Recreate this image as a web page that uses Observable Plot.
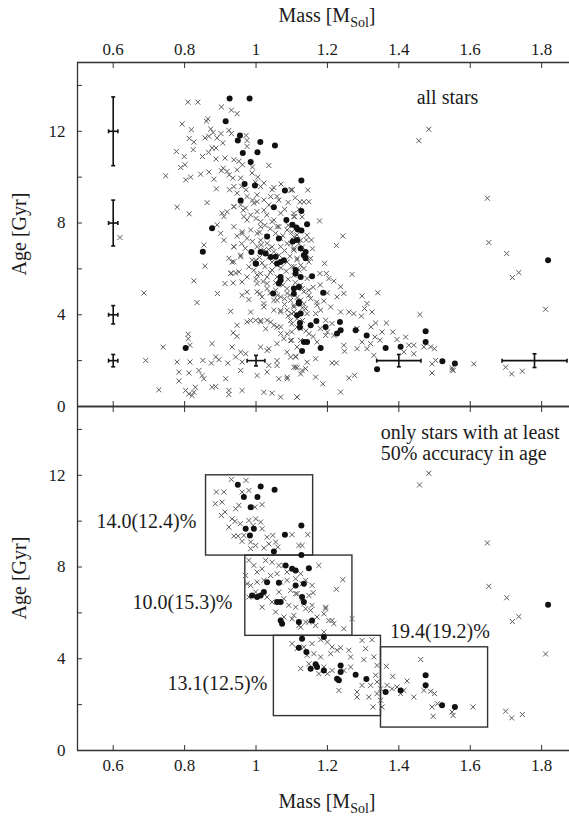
<!DOCTYPE html>
<html><head><meta charset="utf-8">
<script src="https://cdn.jsdelivr.net/npm/d3@7"></script>
<script src="https://cdn.jsdelivr.net/npm/@observablehq/plot@0.6"></script>
<style>
html,body{margin:0;padding:0;background:#fff;}
#wrap{position:relative;width:569px;height:816px;overflow:hidden;background:#fff;font-family:"Liberation Serif","Times New Roman",serif;color:#1a1a1a;}
.panel{position:absolute;left:0;}
.xtitle{position:absolute;left:77px;width:500px;text-align:center;font-size:20px;line-height:20px;white-space:nowrap;}
.xtitle sub{font-size:14px;vertical-align:-5px;line-height:0;}
.ytitle{position:absolute;left:19px;font-size:20px;line-height:20px;white-space:nowrap;transform:translate(-50%,-50%) rotate(-90deg);}
</style></head>
<body>
<div id="wrap">
  <div class="xtitle" style="top:5px">Mass [M<sub>Sol</sub>]</div>
  <div id="top" class="panel" style="top:0"></div>
  <div id="bot" class="panel" style="top:406px"></div>
  <div class="xtitle" style="top:791px">Mass [M<sub>Sol</sub>]</div>
  <div class="ytitle" style="top:234px">Age [Gyr]</div>
  <div class="ytitle" style="top:578px">Age [Gyr]</div>
</div>
<script>
// ---------- axes ----------
const xDomain = [0.5, 1.878];
const yDomain = [0, 15];
const xTicks = [0.6, 0.8, 1, 1.2, 1.4, 1.6, 1.8];
const yLabelTicks = [0, 4, 8, 12];
const yAllTicks = [0, 2, 4, 6, 8, 10, 12, 14];

// ---------- top panel: all stars [mass, age] ----------
const topCrosses = [
[0.619,7.37],
[0.809,13.27],[0.837,13.27],[0.903,13.06],[0.931,12.92],[0.947,12.77],[0.865,12.54],[0.861,12.44],[0.793,12.32],[0.819,12.07],[0.873,12.1],[0.880,11.95],[0.924,12.04],[0.931,11.90],[0.902,11.9],[0.972,11.82],[0.813,11.69],[0.826,11.53],[0.857,11.71],[0.868,11.78],[0.891,11.71],[0.907,11.49],[0.975,11.6],[0.975,11.34],[0.877,11.27],[0.888,11.27],[0.867,11.08],[0.824,11.2],[0.777,11.12],[0.799,10.9],[0.850,10.9],[0.888,10.79],[0.913,10.83],[0.938,10.76],[0.952,10.69],[1.036,10.51],[0.801,10.54],[0.789,10.42],[0.962,10.54],[0.908,10.39],[0.903,10.28],[0.919,10.25],[0.947,10.32],[0.990,10.44],[0.868,10.22],[0.845,10.13],[0.817,10.0],[0.803,9.88],[0.747,10.06],[0.882,9.91],[0.925,10.1],[0.935,9.96],[0.957,9.96],[0.989,10.18],[1.005,10.0],[0.998,9.78],[0.938,9.59],[0.889,9.49],[0.926,9.45],[0.972,9.45],[1.013,9.59],[1.022,9.74],[1.045,9.45],[1.101,9.45],[0.947,9.3],[0.975,9.16],[1.003,9.23],[1.059,9.16],[0.863,8.89],[0.779,8.69],[0.813,8.4],[0.905,8.43],[0.910,8.28],[0.938,8.72],[0.971,8.65],[0.985,8.35],[1.003,8.5],[1.022,9.01],[1.069,8.43],[1.106,8.28],[0.891,7.92],[0.901,7.55],[0.947,7.43],[0.961,7.62],[0.985,7.7],[0.975,7.33],[0.854,7.04],[0.938,6.97],[1.003,6.97],
[0.957,8.79],[0.994,8.86],[1.036,8.79],[0.966,8.28],[1.013,8.06],[1.045,8.06],[1.059,7.84],[1.087,7.7],[1.115,7.48],[1.003,7.55],[1.031,7.11],[1.069,6.97],[1.097,7.11],[1.106,6.9],[1.022,6.82],
[0.857,6.12],[0.826,5.48],[0.686,4.95],[0.835,4.53],[0.892,4.93],[0.913,5.36],[0.936,5.39],[0.929,4.15],[0.924,6.46],[0.938,6.31],[0.957,6.53],[0.98,6.09],[0.999,6.38],[0.929,5.8],[0.952,5.87],[0.975,5.65],[1.003,5.73],[0.961,4.85],[0.98,4.66],[1.003,5.0],[1.017,4.78],[0.985,4.12],[0.975,3.69],[0.999,3.76],[1.013,3.69],[1.031,3.76],[1.05,3.54],[1.027,3.39],[0.936,3.21],[0.947,3.06],[0.81,3.15],[0.81,2.96],[0.877,2.74],[0.74,2.59],[0.815,2.67],[0.933,2.59],[0.957,2.37],[0.971,2.3],[1.036,2.52],[1.059,2.74],[1.078,2.96],[1.069,3.18],[1.097,2.88],[1.087,2.37],[0.691,2.01],[0.779,1.94],[0.815,1.94],[0.851,2.01],[0.875,1.89],[0.887,2.16],[0.896,2.04],[0.921,1.89],[0.943,2.16],[0.961,1.94],[0.957,1.57],[0.784,1.5],[0.812,1.46],[0.84,1.57],[0.849,1.35],[0.854,1.21],[0.784,1.11],[0.915,1.21],[1.003,1.35],[1.031,1.5],[1.059,1.79],[1.111,1.72],[1.064,1.21],[1.087,1.21],[0.728,0.73],[0.803,0.7],[0.812,0.55],[0.821,0.48],[0.826,0.62],[0.83,0.84],[0.877,0.84],[0.887,0.87],[0.924,0.7],[0.924,0.52],[0.961,0.7],[1.022,0.62],[1.045,0.58],[1.069,0.41],[1.115,0.41],
[1.05,4.63],[1.069,4.78],[1.05,4.2],[1.069,4.12],[1.087,4.2],[1.1,4.05],[1.115,3.83],[1.106,4.41],[1.069,3.47],[1.1,3.25],[1.115,3.47],[1.111,2.16],[1.115,2.59],[0.947,3.54],[1.045,5.95],[1.031,5.36],[1.055,5.07],[1.022,4.49],[1.087,4.93],
[1.456,11.59],[1.101,9.44],[1.145,9.44],[1.123,8.92],[1.134,8.92],[1.108,8.28],[1.178,8.09],[1.243,7.43],[1.225,7.02],[1.141,7.26],[1.155,7.26],[1.158,6.88],[1.115,7.26],[1.104,7.26],[1.106,6.82],[1.192,6.24],[1.153,6.46],[1.269,5.76],[1.179,5.8],[1.197,5.8],[1.204,5.58],[1.115,6.46],[1.106,6.09],[1.134,6.02],
[1.218,5.47],[1.237,5.22],[1.246,4.93],[1.227,4.78],[1.297,4.82],[1.341,4.96],[1.311,4.49],[1.325,4.12],[1.304,4.27],[1.295,3.94],[1.274,4.05],[1.26,4.12],[1.237,4.12],[1.209,4.34],[1.171,4.42],[1.167,4.05],[1.181,4.2],[1.115,5.15],[1.134,5.0],[1.148,4.85],[1.125,4.64],[1.153,4.71],[1.106,4.34],[1.139,4.27],[1.195,3.76],[1.213,3.62],[1.283,3.4],[1.335,3.64],[1.365,3.64],[1.322,3.47],[1.353,3.25],[1.383,3.25],[1.395,2.92],[1.333,3.03],[1.347,2.89],[1.297,2.81],[1.321,2.74],[1.311,2.52],[1.283,2.52],[1.248,2.41],[1.33,2.23],[1.419,3.03],[1.428,2.67],[1.442,2.67],[1.414,2.38],[1.442,2.3],[1.459,4.01],[1.47,2.6],[1.489,2.6],[1.5,2.52],[1.503,2.01],[1.493,1.46],[1.549,1.69],[1.552,1.57],[1.167,2.08],[1.213,1.9],[1.225,1.9],[1.276,1.36],[1.26,1.24],[1.115,1.69],[1.129,1.57],[1.139,1.65],[1.167,1.28],[1.187,0.99],[1.237,0.63],[1.115,0.41],[1.111,2.19],[1.171,2.81],[1.195,3.1],[1.218,3.1],[1.1,2.89],[1.246,2.67],
[1.484,12.09],[1.648,9.08],[1.652,7.15],[1.702,6.67],[1.718,5.62],[1.736,5.84],[1.811,4.24],[1.493,1.86],[1.55,1.6],[1.61,1.86],[1.699,1.71],[1.716,1.42],[1.746,1.54],
[0.919,8.49],[0.938,8.71],[0.964,8.56],[1.003,8.93],[1.022,8.56],[1.041,9.15],[1.064,9.0],[1.097,9.44],[1.106,8.42],[1.129,8.27],[1.148,8.93],[0.975,8.13],[1.013,7.84],[1.05,8.13],[1.064,7.84],[0.938,7.84],[0.961,7.54],[0.91,7.25],[0.938,6.96],[0.957,6.6],[1.013,7.25],[1.031,7.4],[1.045,6.96],[1.069,7.33],[1.087,7.11],[1.106,7.4],[1.125,7.25],[1.143,7.47],[1.106,6.82],[1.139,6.67],[0.989,6.38],[1.017,6.26],[1.036,6.52],[1.087,6.3],[1.059,6.16],[1.125,6.16],[1.148,6.3],[0.933,6.3],[0.943,5.82],[0.994,5.94],[1.013,5.8],[1.031,5.65],[1.059,5.65],[1.106,5.72],[1.143,5.58],[0.931,5.82],[0.961,5.43],[1.003,5.36],[1.031,5.14],[1.087,5.14],[1.125,5.29],[1.148,5.07],[0.975,4.99],[1.011,4.92],[1.059,4.63],[1.097,4.63],[1.134,4.48],[1.022,4.34],[1.069,4.19],[1.106,4.12],[1.143,4.05],[0.985,3.75],[1.013,3.75],[1.041,3.68],[1.059,3.46],[1.097,3.75],[1.125,3.39],[1.087,3.17],[1.125,2.88],[1.148,3.17],[1.013,2.59],[1.031,2.44],[1.059,2.0],[1.097,2.15],[1.143,1.93],[1.036,1.79],[1.106,1.71],[1.087,1.28],[1.125,1.42],
[1.01,7.6],[1.025,7.9],[1.04,7.75],[1.055,7.55],[1.075,7.45],[1.09,7.9],[1.1,7.6],[1.12,7.1],[1.13,6.95],[1.015,7.05],[1.035,6.85],[1.05,6.75],[1.065,6.6],[1.08,6.8],[1.095,6.55],[1.115,6.4],[1.01,6.5],[1.025,6.1],[1.045,6.3],[1.07,6.05],[1.085,5.9],[1.1,6.1],[1.12,5.95],[1.0,5.55],[1.02,5.45],[1.04,5.85],[1.055,5.4],[1.075,5.3],[1.09,5.55],[1.11,5.4],[1.13,5.15],[1.04,4.95],[1.06,4.85],[1.08,4.7],[1.095,4.85],[1.115,4.75],[1.13,4.3],[1.08,4.45],[1.09,3.95],[1.1,3.6],[1.13,3.75],[1.14,3.3],[1.16,3.05],[1.18,3.4],[1.2,3.25],[1.17,4.55],[1.19,4.6],[1.16,5.2],[1.18,5.3],[1.2,4.95],[0.99,7.2],[0.97,6.9],[0.96,7.1],[1.0,8.2],[1.03,8.35],[1.08,8.6],[1.09,8.9],[1.11,9.1],[1.12,8.6],[1.05,9.55],[1.07,9.7],[0.99,9.0],[0.96,9.6]
];
const topDots = [
[0.926,13.43],[0.982,13.43],[0.915,12.44],[0.955,11.82],[0.949,11.6],[1.012,11.53],[1.053,11.38],[1.004,11.09],[0.963,11.05],[0.985,10.66],[0.968,9.7],[0.997,9.64],[1.081,9.42],[0.957,8.98],[1.050,8.69],[1.085,8.13],[1.102,7.92],[1.113,7.81],[0.877,7.77],[1.031,7.41],[1.064,7.33],[1.103,7.19],
[1.127,9.85],[1.127,8.52],[1.143,7.95],
[0.851,6.75],[0.803,2.55],[0.999,6.24],[1.059,6.24],[1.069,5.65],[1.064,5.36],[1.111,5.8],[1.106,5.14],[1.048,4.93],[1.115,3.98],[1.055,6.53],[1.027,6.67],[1.078,6.38],
[1.117,7.72],[1.127,7.67],[1.115,7.26],[1.134,6.6],[1.139,6.46],[1.111,5.95],[1.125,5.65],[1.157,5.68],
[1.188,4.96],[1.12,4.49],[1.169,3.73],[1.123,3.64],[1.153,3.54],[1.235,3.69],[1.237,3.32],[1.195,3.47],[1.279,3.32],[1.31,3.1],[1.363,2.55],[1.405,2.6],[1.134,2.81],[1.129,2.42],[1.181,2.55],[1.339,1.62],[1.475,3.28],[1.475,2.81],[1.522,1.97],[1.557,1.87],[1.227,3.18],
[1.818,6.38],
[0.987,6.74],[1.013,6.74],[1.0,6.23],[1.041,6.52],[1.069,6.3],[1.125,6.89],[1.139,6.74],[1.069,5.51],[1.12,5.21],[1.106,4.92],[1.12,4.56],[1.125,4.05],[1.123,3.46],[1.143,2.81]
];

// error bars (top panel): centre mass, centre age, mass error, age error
const errMass = [0.6, 0.6, 0.6, 0.6, 1.0, 1.4, 1.78];
const errAge = [12, 8, 4, 2, 2, 2, 2];
const errMassSd = [0.013, 0.013, 0.013, 0.013, 0.025, 0.062, 0.091];
const errAgeSd = [1.5, 1.0, 0.4, 0.27, 0.23, 0.27, 0.3];

// ---------- bottom panel: stars with >= 50% age accuracy ----------
const botCrosses = [
[0.931,11.82],[0.972,11.78],[0.889,11.27],[0.91,11.27],[0.886,10.76],[0.905,10.83],[0.98,11.34],[0.952,10.69],[0.943,10.54],[0.903,10.25],[0.913,10.4],[0.933,10.1],[0.941,9.99],[0.924,9.74],[0.956,9.89],[0.98,10.03],[0.999,10.1],[0.992,9.81],[1.013,9.96],[1.017,9.67],[0.938,9.35],[0.95,9.35],[0.966,9.38],[0.961,9.12],[0.985,9.09],[0.999,8.94],[0.985,8.8],[1.031,9.3],[1.047,9.38],[1.036,9.01],[1.055,9.09],[1.061,8.87],[1.022,8.83],[1.101,9.41],[1.145,9.41],[1.12,8.94],[1.129,8.94],[0.997,10.61],[1.017,10.72],[0.961,11.27],
[0.98,8.29],[0.994,8.07],[0.971,7.63],[1.003,7.78],[1.027,8.29],[1.045,8.21],[1.064,8.07],[1.017,7.92],[1.041,7.63],[1.059,7.71],[1.078,8.07],[1.087,7.78],[1.003,7.34],[1.022,7.42],[1.069,7.34],[1.087,7.42],[1.111,7.49],[1.129,7.27],[1.157,7.2],[1.176,8.07],[0.985,7.2],[0.98,6.69],[1.031,6.69],[1.045,6.47],[1.064,6.91],[1.078,6.62],[1.097,6.98],[1.111,6.84],[1.129,6.62],[1.148,6.76],[1.092,6.33],[1.111,6.25],[1.139,6.18],[1.157,6.33],[1.055,6.04],[1.078,5.82],[1.101,5.74],[1.12,5.45],[1.139,5.6],[1.167,5.45],[1.19,5.16],[1.195,6.18],[1.213,5.67],[1.017,6.25],[0.999,6.91],[0.975,7.27],
[1.243,7.45],[1.225,7.03],[1.16,6.88],[1.139,7.42],[1.125,7.71],[1.195,6.25],[1.19,5.96],[1.204,5.67],[1.218,5.53],[1.246,5.31],[1.269,5.75],[1.115,6.84],[1.134,6.4],[1.153,6.11],[1.171,5.82],[1.148,5.6],[1.125,5.38],[1.106,5.89],
[1.101,4.66],[1.115,4.44],[1.134,4.51],[1.157,4.66],[1.181,4.83],[1.2,4.73],[1.213,4.51],[1.237,4.48],[1.26,4.37],[1.297,4.8],[1.325,4.83],[1.307,4.44],[1.302,3.96],[1.33,4.08],[1.339,3.71],[1.143,4.15],[1.162,4.22],[1.181,4.08],[1.209,4.22],[1.227,4.37],[1.265,4.08],[1.125,3.57],[1.148,3.78],[1.19,3.64],[1.2,3.35],[1.213,3.49],[1.246,3.49],[1.265,3.64],[1.297,2.84],[1.321,2.84],[1.335,3.28],[1.339,2.99],[1.232,2.62],[1.283,2.55],[1.283,2.33],[1.316,2.33],[1.328,1.9],[1.349,2.69],[1.176,3.35],
[1.461,3.97],[1.365,3.67],[1.383,3.23],[1.423,3.03],[1.367,2.84],[1.381,2.69],[1.395,2.77],[1.414,2.62],[1.442,2.33],[1.405,2.48],[1.47,2.62],[1.489,2.58],[1.5,2.48],[1.349,2.19],[1.353,1.9],[1.493,1.9],[1.508,2.04],[1.496,1.49],[1.549,1.68],[1.552,1.53],[1.608,1.9],[1.339,2.48],
[1.484,12.09],[1.458,11.58],[1.648,9.05],[1.652,7.16],[1.702,6.66],[1.718,5.62],[1.736,5.84],[1.811,4.21],[1.699,1.71],[1.716,1.42],[1.746,1.57]
];
const botDots = [
[0.949,11.59],[0.966,11.05],[1.013,11.51],[1.004,11.05],[1.052,11.37],[0.985,10.61],[0.971,9.67],[0.994,9.67],[1.127,9.81],[1.081,9.41],[1.05,8.68],[1.127,8.53],[0.983,9.38],
[1.083,8.07],[1.101,7.92],[1.111,7.85],[1.148,7.95],[1.031,7.34],[1.064,7.31],[1.111,7.2],[0.989,6.76],[1.003,6.69],[1.013,6.76],[1.022,6.91],[1.059,6.47],[1.069,6.47],[1.129,6.69],[1.134,6.47],[1.069,5.67],[1.073,5.53],[1.12,5.6],[1.157,5.67],[1.134,7.27],
[1.19,4.95],[1.12,4.48],[1.141,4.29],[1.167,3.76],[1.171,3.64],[1.153,3.57],[1.237,3.71],[1.237,3.42],[1.279,3.3],[1.227,3.13],[1.232,3.06],[1.19,3.49],[1.129,4.87],[1.309,3.12],
[1.363,2.55],[1.405,2.62],[1.475,3.28],[1.475,2.84],[1.521,1.97],[1.557,1.9],
[1.818,6.36]
];

// accuracy bins (bottom panel)
const boxMassLo = [0.86, 0.97, 1.05, 1.35];
const boxMassHi = [1.16, 1.27, 1.35, 1.65];
const boxAgeLo = [8.5, 5.0, 1.5, 1.0];
const boxAgeHi = [12.0, 8.5, 5.0, 4.5];
const boxLabels = ["14.0(12.4)%", "10.0(15.3)%", "13.1(12.5)%", "19.4(19.2)%"];
const boxLabelMass = [0.833, 0.934, 1.032, 1.515];
const boxLabelAge = [10.0, 6.45, 2.9, 5.2];
const boxLabelAnchor = ["end", "end", "end", "middle"];

// ---------- drawing ----------
const axisColor = "#333";
const crossColor = "#5c5c5c";
const serif = '"Liberation Serif", "Times New Roman", serif';

const capSymbolH = {draw(ctx, size) { const w = Math.sqrt(size / Math.PI); ctx.moveTo(-w, 0); ctx.lineTo(w, 0); }};
const capSymbolV = {draw(ctx, size) { const w = Math.sqrt(size / Math.PI); ctx.moveTo(0, -w); ctx.lineTo(0, w); }};

const errData = errMass.map((m, i) => ({m, a: errAge[i], dm: errMassSd[i], da: errAgeSd[i]}));
const boxes = boxMassLo.map((m, i) => ({x1: m, x2: boxMassHi[i], y1: boxAgeLo[i], y2: boxAgeHi[i]}));
const labels = boxLabels.map((t, i) => ({t, x: boxLabelMass[i], y: boxLabelAge[i], anchor: boxLabelAnchor[i]}));

function panel({crosses, dots, height, marginTop, marginBottom, labelAnchor, extra}) {
  return Plot.plot({
    width: 569, height, marginTop, marginBottom, marginLeft: 77, marginRight: 0,
    x: {domain: xDomain},
    y: {domain: yDomain},
    style: {fontFamily: serif, fontSize: "17px", color: "#1a1a1a", background: "transparent", overflow: "visible"},
    marks: [
      Plot.axisY(yAllTicks, {anchor: "left", tickSize: -5, tickFormat: () => "", label: null, stroke: axisColor}),
      Plot.axisY(yLabelTicks, {anchor: "left", tickSize: 0, tickPadding: 12, tickFormat: d => String(d), label: null}),
      Plot.axisX(xTicks, {anchor: "top", tickSize: -5, tickFormat: () => "", label: null, stroke: axisColor}),
      Plot.axisX(xTicks, {anchor: "bottom", tickSize: -5, tickFormat: () => "", label: null, stroke: axisColor}),
      Plot.axisX(xTicks, {anchor: labelAnchor, tickSize: 0, tickPadding: 8, tickFormat: d => String(d), label: null}),
      ...extra,
      Plot.dot(crosses, {x: d => d[0], y: d => d[1], symbol: "times", r: 2.4, stroke: crossColor, strokeWidth: 1}),
      Plot.dot(dots, {x: d => d[0], y: d => d[1], r: 3, fill: "#111", stroke: "none"}),
      Plot.ruleX([xDomain[0]], {stroke: axisColor, strokeWidth: 1.3}),
      Plot.ruleY(yDomain, {stroke: axisColor, strokeWidth: 1.3})
    ]
  });
}

const topExtra = [
  Plot.link(errData, {x1: d => d.m, x2: d => d.m, y1: d => d.a - d.da, y2: d => d.a + d.da, stroke: "#111", strokeWidth: 1.6}),
  Plot.link(errData, {x1: d => d.m - d.dm, x2: d => d.m + d.dm, y1: d => d.a, y2: d => d.a, stroke: "#111", strokeWidth: 1.6}),
  Plot.dot(errData, {x: d => d.m, y: d => d.a - d.da, symbol: capSymbolH, r: 2, stroke: "#111", fill: "none", strokeWidth: 1.6}),
  Plot.dot(errData, {x: d => d.m, y: d => d.a + d.da, symbol: capSymbolH, r: 2, stroke: "#111", fill: "none", strokeWidth: 1.6}),
  Plot.dot(errData, {x: d => d.m - d.dm, y: d => d.a, symbol: capSymbolV, r: 2, stroke: "#111", fill: "none", strokeWidth: 1.6}),
  Plot.dot(errData, {x: d => d.m + d.dm, y: d => d.a, symbol: capSymbolV, r: 2, stroke: "#111", fill: "none", strokeWidth: 1.6}),
  Plot.text(["all stars"], {x: 1.45, y: 13.45, text: d => d, textAnchor: "start", fontSize: 20, fill: "#1a1a1a"})
];

const botExtra = [
  Plot.rect(boxes, {x1: "x1", x2: "x2", y1: "y1", y2: "y2", fill: "none", stroke: "#333", strokeWidth: 1.4}),
  Plot.text(labels.filter(d => d.anchor === "end"), {x: "x", y: "y", text: "t", textAnchor: "end", fontSize: 20, fill: "#1a1a1a"}),
  Plot.text(labels.filter(d => d.anchor === "middle"), {x: "x", y: "y", text: "t", textAnchor: "middle", fontSize: 20, fill: "#1a1a1a"}),
  Plot.text(["only stars with at least\n50% accuracy in age"], {x: 1.349, y: 13.41, text: d => d, textAnchor: "start", lineAnchor: "middle", lineHeight: 1.05, fontSize: 20, fill: "#1a1a1a"})
];

document.getElementById("top").append(panel({crosses: topCrosses, dots: topDots, height: 406, marginTop: 62, marginBottom: 0, labelAnchor: "top", extra: topExtra}));
document.getElementById("bot").append(panel({crosses: botCrosses, dots: botDots, height: 410, marginTop: 0, marginBottom: 66, labelAnchor: "bottom", extra: botExtra}));
</script>
</body></html>
